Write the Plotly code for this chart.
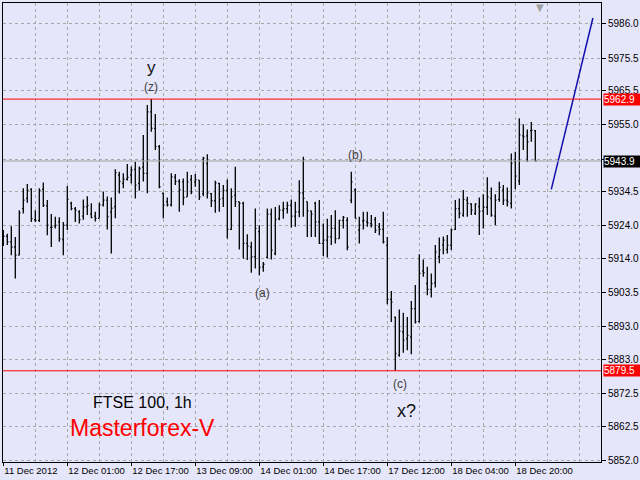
import plotly.graph_objects as go

# ---------------- data ----------------
opens = [5921.1, 5920.8, 5919.1, 5917.5, 5915.0, 5929.3, 5932.4, 5935.2, 5925.9, 5925.7,
         5935.2, 5930.1, 5923.5, 5923.9, 5925.2, 5919.8, 5924.2, 5930.9, 5929.3, 5928.3,
         5927.0, 5929.8, 5927.6, 5927.0, 5926.3, 5930.4, 5931.9, 5928.3, 5929.9, 5939.6,
         5937.0, 5938.3, 5939.6, 5941.3, 5937.0, 5942.0, 5940.1, 5959.0, 5953.9, 5948.3,
         5934.0, 5931.4, 5930.4, 5938.9, 5937.6, 5937.5, 5932.9, 5938.2, 5937.5, 5938.0,
         5933.9, 5943.1, 5933.9, 5931.7, 5937.0, 5932.4, 5934.9, 5922.9, 5933.4, 5931.4,
         5930.9, 5918.6, 5917.5, 5914.5, 5922.2, 5911.4, 5914.3, 5927.6, 5915.5, 5926.2,
         5928.8, 5929.3, 5930.3, 5927.0, 5928.3, 5934.1, 5931.4, 5928.6, 5930.9, 5925.2,
         5918.6, 5919.6, 5920.6, 5923.2, 5920.1, 5925.7, 5925.7, 5931.9, 5935.0, 5922.7,
         5925.5, 5925.2, 5924.7, 5925.9, 5923.7, 5922.9, 5918.0, 5901.4, 5896.0, 5884.3,
         5891.4, 5889.4, 5889.9, 5898.6, 5894.6, 5910.2, 5906.3, 5904.5, 5906.5, 5914.5,
         5918.1, 5916.8, 5918.1, 5922.9, 5929.3, 5927.3, 5931.9, 5930.7, 5927.8, 5929.9,
         5928.5, 5929.7, 5932.4, 5927.0, 5932.1, 5935.0, 5931.9, 5930.9, 5943.7, 5937.8,
         5951.6, 5951.6, 5953.2, 5953.2]
highs = [5922.7, 5921.6, 5923.9, 5920.6, 5928.8, 5935.5, 5936.8, 5935.5, 5928.8, 5935.5,
         5937.3, 5931.9, 5927.6, 5926.8, 5926.6, 5925.2, 5936.2, 5931.4, 5929.8, 5928.8,
         5932.1, 5933.1, 5930.9, 5928.3, 5931.1, 5934.5, 5933.0, 5932.7, 5941.4, 5940.6,
         5940.1, 5943.0, 5942.2, 5943.7, 5942.2, 5951.9, 5961.1, 5962.9, 5958.3, 5948.8,
         5934.2, 5932.7, 5940.1, 5939.9, 5938.3, 5938.5, 5940.6, 5939.6, 5939.9, 5938.0,
         5945.2, 5946.0, 5934.1, 5937.8, 5937.2, 5936.5, 5938.2, 5935.5, 5942.1, 5931.4,
         5931.4, 5921.4, 5919.1, 5929.3, 5924.2, 5912.9, 5929.3, 5929.3, 5929.8, 5930.3,
         5931.4, 5931.4, 5932.1, 5931.4, 5938.0, 5945.2, 5931.4, 5928.6, 5931.4, 5931.9,
         5924.7, 5926.2, 5927.3, 5928.8, 5925.9, 5927.0, 5926.6, 5940.6, 5935.5, 5926.8,
         5928.3, 5928.3, 5927.3, 5926.7, 5924.9, 5928.3, 5920.6, 5904.0, 5896.2, 5898.3,
         5897.3, 5896.0, 5900.9, 5905.8, 5915.3, 5913.7, 5911.4, 5909.4, 5918.1, 5920.4,
         5920.7, 5921.2, 5923.2, 5931.9, 5932.4, 5935.0, 5932.9, 5930.9, 5930.9, 5932.7,
         5933.7, 5938.9, 5935.8, 5933.7, 5937.5, 5936.5, 5935.8, 5946.2, 5946.7, 5957.0,
         5955.2, 5953.6, 5955.9, 5953.4]
lows = [5917.8, 5918.1, 5915.0, 5907.8, 5915.0, 5927.8, 5931.1, 5925.2, 5925.2, 5925.2,
        5929.8, 5921.1, 5917.5, 5923.2, 5919.1, 5915.0, 5922.7, 5928.8, 5925.2, 5924.7,
        5925.9, 5927.3, 5926.3, 5925.3, 5926.3, 5929.9, 5922.9, 5915.5, 5926.3, 5933.9,
        5935.5, 5937.9, 5937.0, 5932.4, 5934.8, 5937.6, 5934.0, 5952.9, 5947.3, 5935.5,
        5926.3, 5929.9, 5929.9, 5936.5, 5928.3, 5930.3, 5932.9, 5933.7, 5936.0, 5931.9,
        5933.1, 5932.4, 5929.8, 5928.0, 5928.3, 5929.8, 5920.1, 5922.7, 5929.8, 5916.7,
        5914.0, 5913.5, 5909.6, 5910.9, 5908.8, 5909.9, 5914.0, 5913.7, 5915.0, 5925.7,
        5926.2, 5927.8, 5923.5, 5923.7, 5926.6, 5926.8, 5920.6, 5920.6, 5920.6, 5918.4,
        5914.7, 5914.3, 5918.1, 5918.6, 5920.1, 5923.2, 5916.5, 5930.9, 5926.3, 5918.6,
        5922.9, 5923.7, 5923.5, 5921.8, 5921.1, 5918.6, 5899.9, 5894.5, 5879.5, 5883.8,
        5885.0, 5885.8, 5884.6, 5894.0, 5894.3, 5908.4, 5902.7, 5902.0, 5905.1, 5912.5,
        5915.3, 5915.5, 5916.6, 5922.7, 5926.3, 5926.8, 5926.8, 5927.3, 5927.3, 5921.2,
        5923.2, 5927.3, 5926.8, 5924.2, 5931.4, 5930.4, 5929.9, 5929.3, 5935.2, 5936.5,
        5947.3, 5943.7, 5949.8, 5943.9]
closes = [5920.8, 5919.1, 5917.5, 5915.0, 5928.0, 5931.9, 5934.9, 5926.2, 5925.7, 5934.9,
          5930.3, 5924.2, 5923.5, 5924.2, 5920.1, 5924.2, 5932.1, 5929.3, 5928.8, 5925.9,
          5929.8, 5930.3, 5926.5, 5926.3, 5930.4, 5931.9, 5926.8, 5929.4, 5940.3, 5937.6,
          5938.3, 5938.9, 5941.1, 5936.5, 5941.6, 5940.1, 5959.0, 5953.9, 5948.3, 5936.0,
          5930.4, 5930.4, 5939.1, 5937.6, 5935.0, 5932.7, 5937.5, 5934.4, 5938.2, 5932.9,
          5944.7, 5934.1, 5931.7, 5937.2, 5932.1, 5934.9, 5922.9, 5932.9, 5931.4, 5930.9,
          5918.6, 5917.8, 5914.5, 5923.2, 5911.2, 5912.2, 5927.6, 5916.5, 5925.9, 5928.8,
          5929.3, 5930.3, 5927.0, 5928.3, 5934.1, 5932.4, 5928.6, 5927.6, 5925.2, 5918.6,
          5919.6, 5920.6, 5923.2, 5920.1, 5925.7, 5926.6, 5917.5, 5937.5, 5926.3, 5924.2,
          5925.7, 5924.9, 5924.2, 5922.6, 5922.9, 5919.1, 5901.4, 5900.6, 5884.8, 5891.7,
          5888.9, 5890.4, 5898.6, 5894.5, 5909.4, 5909.6, 5904.5, 5906.3, 5916.0, 5916.6,
          5919.6, 5918.1, 5922.7, 5929.3, 5927.8, 5932.1, 5930.9, 5928.8, 5930.7, 5928.5,
          5929.7, 5932.9, 5927.3, 5931.9, 5935.8, 5931.9, 5931.4, 5943.2, 5939.3, 5951.9,
          5951.3, 5949.8, 5953.4, 5943.9]
bar_index = list(range(len(closes)))

x_tick_index = [0, 16, 32, 48, 64, 80, 96, 112, 128]
x_tick_labels = ["11 Dec 2012", "12 Dec 01:00", "12 Dec 17:00", "13 Dec 09:00",
                 "14 Dec 01:00", "14 Dec 17:00", "17 Dec 12:00", "18 Dec 04:00",
                 "18 Dec 20:00"]
x_minor_index = [8, 24, 40, 56, 72, 88, 104, 120, 136, 144]

y_tick_values = [5986.0, 5975.5, 5965.5, 5955.0, 5944.5, 5934.5, 5924.0, 5914.0,
                 5903.5, 5893.0, 5883.0, 5872.5, 5862.5, 5852.0]
# 5944.5 label is hidden behind the last-price box in the original
y_tick_labels = ["5986.0", "5975.5", "5965.5", "5955.0", "", "5934.5", "5924.0", "5914.0",
                 "5903.5", "5893.0", "5883.0", "5872.5", "5862.5", "5852.0"]

level_high = 5962.9
level_low = 5879.5
last_price = 5943.9

forecast_x = [137, 147.4]
forecast_y = [5935.2, 5987.8]

# ---------------- figure ----------------
FONT = "Liberation Sans"
fig = go.Figure()

fig.add_trace(go.Ohlc(
    x=bar_index, open=opens, high=highs, low=lows, close=closes,
    increasing=dict(line=dict(color="black", width=1.3)),
    decreasing=dict(line=dict(color="black", width=1.3)),
    tickwidth=0.3, hoverinfo="skip", showlegend=False,
))

fig.add_trace(go.Scatter(
    x=forecast_x, y=forecast_y, mode="lines",
    line=dict(color="#1010b0", width=1.5), showlegend=False, hoverinfo="skip",
))

# horizontal levels
for lvl, col in [(level_high, "#ff0000"), (level_low, "#ff0000"), (last_price, "#a0a0a0")]:
    fig.add_shape(type="line", xref="paper", x0=0, x1=1, yref="y", y0=lvl, y1=lvl,
                  line=dict(color=col, width=1), layer="above")

# price boxes on the right axis
for lvl, bg in [(level_high, "#ff0000"), (level_low, "#ff0000"), (last_price, "#000000")]:
    fig.add_annotation(xref="paper", x=1.003, xanchor="left", yref="y", y=lvl,
                       yanchor="middle", text=f"{lvl:.1f}", showarrow=False,
                       font=dict(family=FONT, size=10, color="white"),
                       bgcolor=bg, borderpad=0, width=36, align="left")

# wave labels
wave_labels = [
    (37, 5972.6, "y", 17, "#111111"),
    (37, 5966.6, "(z)", 12, "#404040"),
    (88, 5945.6, "(b)", 12, "#404040"),
    (64.7, 5903.3, "(a)", 12, "#404040"),
    (99.2, 5875.4, "(c)", 12, "#404040"),
    (100.7, 5867.2, "x?", 18, "#111111"),
]
for xi, yv, t, sz, col in wave_labels:
    fig.add_annotation(x=xi, y=yv, text=t, showarrow=False, xanchor="center",
                       yanchor="middle",
                       font=dict(family="Liberation Sans", size=sz, color=col))

fig.add_annotation(xref="paper", yref="paper", x=0.2336, y=0.1292, text="FTSE 100, 1h",
                   xanchor="center", yanchor="middle", showarrow=False,
                   font=dict(family="Liberation Sans", size=16, color="black"))
fig.add_annotation(xref="paper", yref="paper", x=0.2336, y=0.074, text="Masterforex-V",
                   xanchor="center", yanchor="middle", showarrow=False,
                   font=dict(family="Liberation Sans", size=23, color="#ff0000"))

# shift marker at the top
fig.add_annotation(xref="x", x=134.2, yref="paper", y=1.0, yanchor="top", yshift=3,
                   text="▼", showarrow=False,
                   font=dict(family="DejaVu Sans", size=10, color="#a0a0a0"))

grid_col = "#a8a8a8"
fig.update_layout(
    width=640, height=480, autosize=False,
    paper_bgcolor="#e6e6fa", plot_bgcolor="#e6e6fa",
    margin=dict(l=3, r=39, t=3, b=18, autoexpand=False),
    font=dict(family=FONT, size=9, color="black"),
    xaxis=dict(
        range=[-0.075, 149.425], rangeslider=dict(visible=False),
        tickmode="array", tickvals=x_tick_index, ticktext=x_tick_labels,
        tickangle=0, automargin=False, tickfont=dict(size=9.5),
        ticklabelposition="outside right", ticks="outside", ticklen=3, tickcolor="black",
        showgrid=True, gridcolor=grid_col, griddash="3px,3px", gridwidth=1,
        minor=dict(tickmode="array", tickvals=x_minor_index, showgrid=True,
                   gridcolor=grid_col, griddash="3px,3px", ticks=""),
        showline=True, linecolor="black", linewidth=1, mirror=True, zeroline=False,
        fixedrange=True,
    ),
    yaxis=dict(
        range=[5851.5, 5992.4], side="right", automargin=False,
        tickmode="array", tickvals=y_tick_values, ticktext=y_tick_labels,
        tickfont=dict(size=10),
        ticks="outside", ticklen=4, tickcolor="black",
        showgrid=True, gridcolor=grid_col, griddash="3px,3px", gridwidth=1,
        showline=True, linecolor="black", linewidth=1, mirror=True, zeroline=False,
        fixedrange=True,
    ),
)

fig.write_html("out.html", config={"displayModeBar": False},
               post_script="document.body.style.margin='0';document.body.style.overflow='hidden';")
